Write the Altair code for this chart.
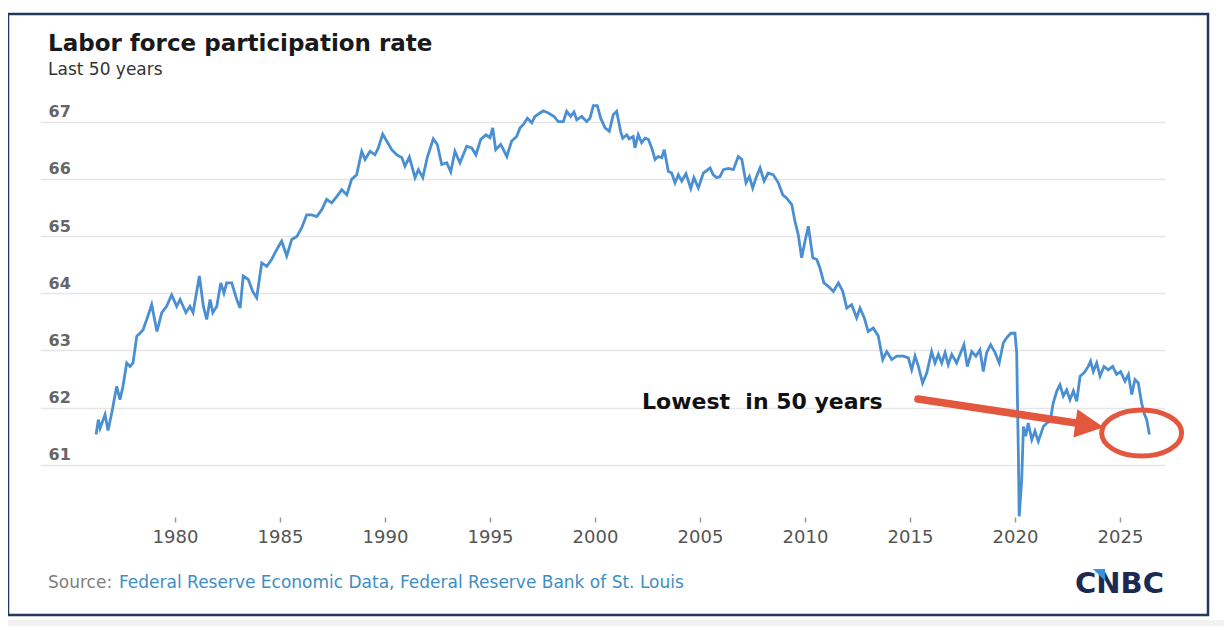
import altair as alt
import pandas as pd

# ---- data (decimal year, participation rate %) ----
years = [
    1976.24, 1976.35, 1976.43, 1976.67, 1976.81, 1976.99, 1977.22, 1977.38, 1977.52, 1977.70,
    1977.86, 1978.00, 1978.18, 1978.33, 1978.48, 1978.71, 1978.89, 1979.14, 1979.37, 1979.60,
    1979.84, 1980.08, 1980.24, 1980.52, 1980.71, 1980.86, 1981.16, 1981.35, 1981.51, 1981.67,
    1981.80, 1981.99, 1982.18, 1982.33, 1982.46, 1982.70, 1982.94, 1983.10, 1983.25, 1983.49,
    1983.70, 1983.89, 1984.13, 1984.37, 1984.60, 1984.84, 1985.08, 1985.32, 1985.56, 1985.80,
    1986.03, 1986.27, 1986.51, 1986.75, 1986.99, 1987.22, 1987.46, 1987.70, 1987.94, 1988.18,
    1988.41, 1988.65, 1988.89, 1989.05, 1989.29, 1989.52, 1989.68, 1989.89, 1990.08, 1990.32,
    1990.56, 1990.80, 1990.95, 1991.16, 1991.43, 1991.59, 1991.80, 1992.01, 1992.30, 1992.49,
    1992.70, 1992.94, 1993.13, 1993.33, 1993.57, 1993.89, 1994.13, 1994.33, 1994.56, 1994.81,
    1995.00, 1995.13, 1995.27, 1995.51, 1995.80, 1996.03, 1996.27, 1996.43, 1996.59, 1996.78,
    1996.99, 1997.14, 1997.38, 1997.54, 1997.78, 1998.05, 1998.25, 1998.49, 1998.65, 1998.84,
    1999.00, 1999.13, 1999.37, 1999.60, 1999.76, 1999.92, 2000.11, 2000.27, 2000.48, 2000.68,
    2000.87, 2001.03, 2001.22, 2001.32, 2001.51, 2001.63, 2001.82, 2001.90, 2002.06, 2002.22,
    2002.38, 2002.54, 2002.70, 2002.86, 2003.01, 2003.18, 2003.30, 2003.49, 2003.65, 2003.81,
    2003.97, 2004.13, 2004.33, 2004.56, 2004.71, 2004.92, 2005.16, 2005.48, 2005.63, 2005.80,
    2005.95, 2006.11, 2006.35, 2006.59, 2006.82, 2006.99, 2007.19, 2007.35, 2007.51, 2007.67,
    2007.86, 2008.05, 2008.25, 2008.49, 2008.73, 2008.94, 2009.13, 2009.37, 2009.52, 2009.68,
    2009.84, 2010.00, 2010.16, 2010.37, 2010.56, 2010.71, 2010.90, 2011.11, 2011.35, 2011.59,
    2011.80, 2011.99, 2012.22, 2012.46, 2012.62, 2012.82, 2013.01, 2013.25, 2013.49, 2013.70,
    2013.89, 2014.13, 2014.37, 2014.68, 2014.92, 2015.08, 2015.24, 2015.40, 2015.60, 2015.80,
    2016.03, 2016.19, 2016.35, 2016.51, 2016.67, 2016.82, 2016.99, 2017.22, 2017.38, 2017.57,
    2017.73, 2017.94, 2018.14, 2018.33, 2018.49, 2018.65, 2018.84, 2019.05, 2019.25, 2019.44,
    2019.60, 2019.80, 2020.00, 2020.08, 2020.16, 2020.20, 2020.32, 2020.40, 2020.51, 2020.63,
    2020.80, 2020.95, 2021.11, 2021.35, 2021.51, 2021.67, 2021.82, 2021.99, 2022.14, 2022.30,
    2022.46, 2022.62, 2022.78, 2022.94, 2023.10, 2023.29, 2023.49, 2023.60, 2023.73, 2023.89,
    2024.05, 2024.24, 2024.44, 2024.65, 2024.84, 2025.03, 2025.24, 2025.40, 2025.56, 2025.71,
    2025.87, 2026.03, 2026.14, 2026.27, 2026.40,
]
rates = [
    61.53, 61.79, 61.64, 61.88, 61.60, 61.91, 62.37, 62.14, 62.37, 62.78,
    62.72, 62.78, 63.25, 63.30, 63.36, 63.60, 63.80, 63.33, 63.66, 63.77,
    63.97, 63.77, 63.89, 63.66, 63.77, 63.66, 64.30, 63.77, 63.54, 63.89,
    63.66, 63.77, 64.18, 64.00, 64.18, 64.18, 63.89, 63.74, 64.30, 64.24,
    64.03, 63.92, 64.53, 64.47, 64.59, 64.76, 64.91, 64.65, 64.94, 64.99,
    65.14, 65.37, 65.37, 65.34, 65.46, 65.64, 65.58, 65.69, 65.81, 65.72,
    65.99, 66.07, 66.48, 66.34, 66.48, 66.42, 66.54, 66.78, 66.66, 66.51,
    66.42, 66.37, 66.22, 66.38, 66.02, 66.16, 66.02, 66.37, 66.70, 66.60,
    66.25, 66.28, 66.12, 66.48, 66.28, 66.57, 66.54, 66.42, 66.69, 66.77,
    66.72, 66.89, 66.51, 66.60, 66.39, 66.66, 66.74, 66.89, 66.95, 67.06,
    66.98, 67.09, 67.15, 67.19, 67.15, 67.09, 67.00, 67.00, 67.18, 67.09,
    67.17, 67.03, 67.09, 67.00, 67.06, 67.28, 67.28, 67.06, 66.89, 66.83,
    67.12, 67.18, 66.83, 66.71, 66.77, 66.70, 66.74, 66.54, 66.77, 66.63,
    66.71, 66.69, 66.54, 66.34, 66.39, 66.37, 66.51, 66.13, 66.10, 65.93,
    66.07, 65.96, 66.09, 65.83, 66.02, 65.84, 66.10, 66.19, 66.07, 66.02,
    66.04, 66.16, 66.18, 66.16, 66.39, 66.34, 65.93, 66.04, 65.84, 66.02,
    66.19, 65.96, 66.10, 66.07, 65.93, 65.72, 65.66, 65.55, 65.26, 65.02,
    64.62, 64.91, 65.17, 64.62, 64.59, 64.44, 64.18, 64.12, 64.03, 64.18,
    64.03, 63.74, 63.80, 63.57, 63.74, 63.57, 63.33, 63.39, 63.25, 62.84,
    62.98, 62.84, 62.90, 62.90, 62.87, 62.66, 62.90, 62.72, 62.43, 62.61,
    62.98, 62.78, 62.93, 62.78, 62.96, 62.75, 62.93, 62.78, 62.93, 63.10,
    62.72, 62.98, 62.90, 63.01, 62.63, 62.96, 63.10, 62.96, 62.78, 63.13,
    63.22, 63.30, 63.30, 62.96, 61.21, 60.10, 60.74, 61.67, 61.50, 61.73,
    61.44, 61.59, 61.41, 61.67, 61.73, 61.76, 62.08, 62.29, 62.40, 62.20,
    62.31, 62.14, 62.29, 62.11, 62.55, 62.61, 62.72, 62.81, 62.63, 62.78,
    62.55, 62.72, 62.66, 62.72, 62.58, 62.63, 62.46, 62.58, 62.23, 62.49,
    62.43, 62.08, 61.91, 61.79, 61.53,
]
x_ticks = [1980, 1985, 1990, 1995, 2000, 2005, 2010, 2015, 2020, 2025]
y_ticks = [61, 62, 63, 64, 65, 66, 67]

title_text = "Labor force participation rate"
subtitle_text = "Last 50 years"
source_label = "Source:"
source_text = "Federal Reserve Economic Data, Federal Reserve Bank of St. Louis"
note_text = "Lowest\u00a0\u00a0in 50 years"
logo_text = "CNBC"

# annotation anchor points (in data units)
note_year, note_rate = [2002.24], [62.10]
arrow_years, arrow_rates = [2015.38, 2023.3], [62.15, 61.71]
head_year, head_rate = [2023.55], [61.69]
ring_year, ring_rate = [2026.03], [61.555]

df = pd.DataFrame({"year": years, "rate": rates})

LINE_BLUE = "#4a8fd1"
RED = "#e2573d"
NAVY = "#22385c"

xs = alt.Scale(domain=[1973.571, 2027.143], nice=False, zero=False)
ys = alt.Scale(domain=[60.0, 67.5], nice=False, zero=False)

x_axis = alt.Axis(values=x_ticks, format="d", grid=False, domain=False,
                  ticks=True, tickSize=5, tickColor="#9a9a9a", tickWidth=1.5,
                  offset=-5, labelPadding=6, labelFont="DejaVu Sans",
                  labelFontSize=18, labelColor="#555555")
y_axis = alt.Axis(values=y_ticks, format="d", grid=True, gridColor="#e6e6e6",
                  gridWidth=1.5, domain=False, ticks=False, tickSize=0,
                  labelAlign="left", labelPadding=-8, labelBaseline="alphabetic",
                  labelOffset=-5, labelFont="DejaVu Sans", labelFontSize=16,
                  labelFontWeight="bold", labelColor="#666666")

one = alt.Data(values=[{}])

band = alt.Chart(one).mark_rect(color="#f2f2f2").encode(
    x=alt.value(-40), x2=alt.value(1184), y=alt.value(527), y2=alt.value(540))
frame = alt.Chart(one).mark_rect(fillOpacity=0, stroke=NAVY, strokeWidth=2.5).encode(
    x=alt.value(-32), x2=alt.value(1168), y=alt.value(-79), y2=alt.value(522))

line = alt.Chart(df).mark_line(color=LINE_BLUE, strokeWidth=2.8).encode(
    x=alt.X("year:Q", scale=xs, axis=x_axis, title=""),
    y=alt.Y("rate:Q", scale=ys, axis=y_axis, title=""),
)

def txt(text, x, y, size, color, weight="normal", font="DejaVu Sans", align="left"):
    return alt.Chart(one).mark_text(
        text=text, align=align, baseline="middle", font=font, fontSize=size,
        fontWeight=weight, color=color).encode(x=alt.value(x), y=alt.value(y))

title = txt(title_text, 8, -49, 23, "#1a1a1a", "bold")
subtitle = txt(subtitle_text, 8, -23, 17, "#333333")
src1 = txt(source_label, 8, 490, 17, "#808080")
src2 = txt(source_text, 79, 490, 17, "#3e8ec4")
logo = txt(logo_text, 1124, 491, 29, "#1a2a50", "bold", "DejaVu Sans", "right")
logo_mark = alt.Chart(one).mark_point(
    shape="M -1 -1 L 1 -1 L 1 1 Z", size=150, filled=True, color="#3a8fd8",
    opacity=1).encode(x=alt.value(1059), y=alt.value(482))

note = alt.Chart(pd.DataFrame({"year": note_year, "rate": note_rate})).mark_text(
    text=note_text, align="left", baseline="middle", font="DejaVu Sans",
    fontSize=22, fontWeight="bold", color="#111111").encode(
    x=alt.X("year:Q", scale=xs), y=alt.Y("rate:Q", scale=ys))

shaft = alt.Chart(pd.DataFrame({"year": arrow_years, "rate": arrow_rates})).mark_line(
    color=RED, strokeWidth=7.5, strokeCap="round").encode(
    x=alt.X("year:Q", scale=xs), y=alt.Y("rate:Q", scale=ys))

head = alt.Chart(pd.DataFrame({"year": head_year, "rate": head_rate})).mark_point(
    shape="M -1 -1 L 1 0 L -1 1 Z", size=820, angle=8, filled=True,
    color=RED, opacity=1).encode(
    x=alt.X("year:Q", scale=xs), y=alt.Y("rate:Q", scale=ys))

ring = alt.Chart(pd.DataFrame({"year": ring_year, "rate": ring_rate})).mark_point(
    shape="M -1 0 A 1 0.575 0 1 1 1 0 A 1 0.575 0 1 1 -1 0 Z", size=6400,
    filled=False, stroke=RED, strokeWidth=5, opacity=1).encode(
    x=alt.X("year:Q", scale=xs), y=alt.Y("rate:Q", scale=ys))

chart = alt.layer(
    band, frame, line, title, subtitle, src1, src2, logo, logo_mark,
    note, shaft, head, ring
).properties(
    width=1125, height=429,
    autosize=alt.AutoSizeParams(type="none"),
    padding={"left": 32, "top": 85, "right": 59, "bottom": 104},
    background="white",
).configure_view(strokeWidth=0)

chart.save("out.html", embed_options={"renderer": "svg", "actions": False})
